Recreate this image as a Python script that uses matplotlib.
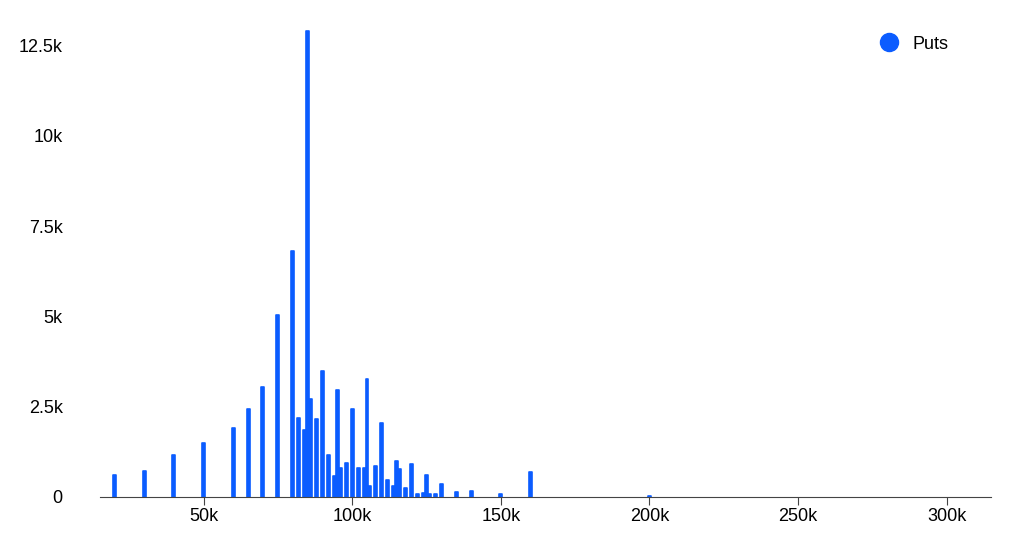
import matplotlib.pyplot as plt
from matplotlib.ticker import FuncFormatter
from matplotlib.lines import Line2D

plt.rcParams['font.family'] = ['Liberation Sans', 'DejaVu Sans']

strikes = [20, 30, 40, 50, 60, 65, 70, 75, 80, 82, 84, 85, 86, 88, 90, 92, 94, 95, 96,
           98, 100, 102, 104, 105, 106, 108, 110, 112, 114, 115, 116, 118, 120, 122,
           124, 125, 126, 128, 130, 135, 140, 150, 160, 200]
puts = [0.6, 0.72, 1.15, 1.5, 1.9, 2.45, 3.05, 5.05, 6.8, 2.2, 1.85, 12.9, 2.7, 2.15,
        3.5, 1.15, 0.57, 2.95, 0.8, 0.95, 2.45, 0.8, 0.8, 3.28, 0.3, 0.85, 2.05, 0.47,
        0.3, 1.0, 0.78, 0.25, 0.9, 0.08, 0.1, 0.6, 0.08, 0.08, 0.35, 0.13, 0.17, 0.07,
        0.7, 0.02]

blue = "#0b5cff"
fig = plt.figure(figsize=(10.24, 5.59), dpi=100)
ax = fig.add_axes([0.098, 0.111, 0.87, 0.846])
ax.bar(strikes, puts, width=1.0, color=blue, edgecolor=blue, linewidth=1.2,
       joinstyle="round", capstyle="round")

ax.set_xlim(15.3, 315)
ax.set_ylim(0, 13.1)
ax.set_xticks([50, 100, 150, 200, 250, 300])
ax.set_yticks([0, 2.5, 5, 7.5, 10, 12.5])
ax.xaxis.set_major_formatter(FuncFormatter(lambda v, p: f"{v:g}k"))
ax.yaxis.set_major_formatter(FuncFormatter(lambda v, p: "0" if v == 0 else f"{v:g}k"))
for s in ["top", "right", "left"]:
    ax.spines[s].set_visible(False)
ax.spines["bottom"].set_color("#444444")
ax.tick_params(axis="y", length=0, labelsize=13, pad=27)
ax.tick_params(axis="x", length=6, color="#444444", labelsize=13, pad=2)

handle = Line2D([], [], marker="o", linestyle="", color=blue, markersize=13)
ax.legend([handle], ["Puts"], loc="upper right", frameon=False, fontsize=13,
          handletextpad=0.3, bbox_to_anchor=(0.97, 1.01))

fig.savefig("out.png")
